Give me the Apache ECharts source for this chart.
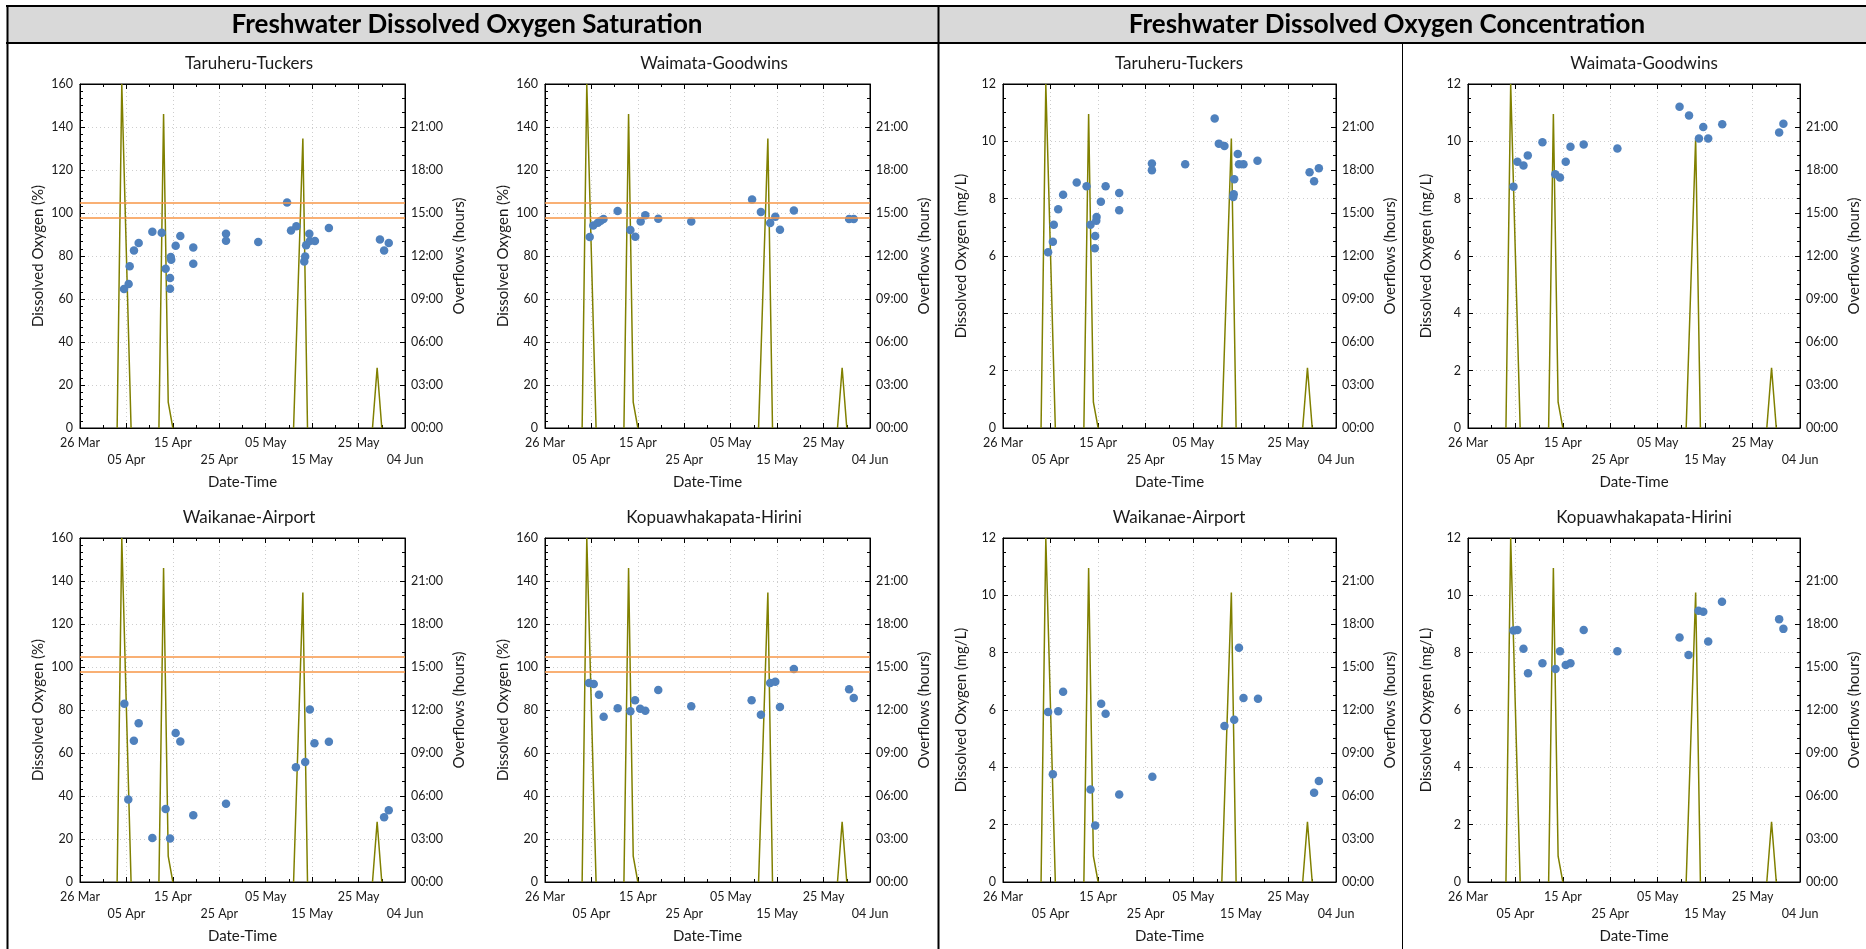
<!DOCTYPE html>
<html>
<head>
<meta charset="utf-8">
<script src="https://cdn.jsdelivr.net/npm/echarts@6/dist/echarts.min.js"></script>
<style>
html, body { margin: 0; padding: 0; background: #fff; }
#chart { width: 1866px; height: 949px; }
</style>
</head>
<body>
<div id="chart"></div>
<script>
// ---- Data -------------------------------------------------------------
// Sample times are 'MM-DD HH:mm' (2023); values are % saturation or mg/L.
const xTickLabels = ['26 Mar', '05 Apr', '15 Apr', '25 Apr', '05 May', '15 May', '25 May', '04 Jun'];
const satTicks = [0, 20, 40, 60, 80, 100, 120, 140, 160];
const concTicks = [0, 2, 4, 6, 8, 10, 12];
const satGuidelines = [98, 105];

// Daily overflow duration (hours)
const overflowDates = ['04-03', '04-04', '04-05', '04-06',
                       '04-12', '04-13', '04-14', '04-15',
                       '05-11', '05-12', '05-13', '05-14',
                       '05-28', '05-29', '05-30'];
const overflowHours = [0, 24, 12, 0,
                       0, 21.9, 1.8, 0,
                       0, 10.1, 20.2, 0,
                       0, 4.2, 0];

const taruheruSat = [
  ['04-04 11:30', 64.6], ['04-05 11:30', 67.0], ['04-05 16:45', 75.2], ['04-06 15:00', 82.6],
  ['04-07 15:15', 86.0], ['04-10 14:00', 91.3], ['04-12 14:30', 90.8], ['04-13 10:45', 74.1],
  ['04-14 09:30', 69.8], ['04-14 09:30', 64.8], ['04-14 13:15', 79.5], ['04-14 15:30', 78.3],
  ['04-15 14:30', 84.8], ['04-16 14:30', 89.3], ['04-19 09:30', 83.9], ['04-19 09:30', 76.4],
  ['04-26 10:45', 90.4], ['04-26 10:45', 87.1], ['05-03 09:30', 86.5], ['05-09 14:30', 104.9],
  ['05-10 10:45', 91.9], ['05-11 14:30', 93.8], ['05-13 07:15', 77.5], ['05-13 12:00', 79.8],
  ['05-13 16:45', 85.0], ['05-14 09:30', 90.4], ['05-14 12:00', 87.0], ['05-15 14:30', 87.0],
  ['05-18 14:30', 93.0], ['05-29 14:30', 87.7], ['05-30 12:00', 82.6], ['05-31 12:00', 86.0]
];
const waimataSat = [
  ['04-04 15:00', 88.8], ['04-05 09:30', 94.2], ['04-06 09:30', 95.5], ['04-07 00:00', 96.4],
  ['04-07 14:30', 97.2], ['04-10 15:30', 100.9], ['04-13 09:30', 92.1], ['04-14 10:45', 89.0],
  ['04-15 14:30', 96.0], ['04-16 14:30', 98.9], ['04-19 09:30', 97.3], ['04-26 12:00', 96.0],
  ['05-09 14:30', 106.3], ['05-11 12:00', 100.5], ['05-13 12:00', 95.3], ['05-14 14:30', 98.3],
  ['05-15 14:30', 92.2], ['05-18 14:30', 101.2], ['05-30 12:00', 97.2], ['05-31 12:00', 97.2]
];
const waikanaeSat = [
  ['04-04 13:15', 82.9], ['04-05 09:30', 38.4], ['04-06 14:30', 65.7], ['04-07 15:15', 73.8],
  ['04-10 14:00', 20.5], ['04-13 10:45', 33.9], ['04-14 09:30', 20.2], ['04-15 14:30', 69.3],
  ['04-16 14:30', 65.4], ['04-19 09:30', 31.1], ['04-26 10:45', 36.4], ['05-11 12:00', 53.4],
  ['05-13 12:00', 55.8], ['05-14 12:00', 80.2], ['05-15 12:00', 64.5], ['05-18 14:30', 65.2],
  ['05-30 12:00', 30.1], ['05-31 12:00', 33.4]
];
const kopuaSat = [
  ['04-04 11:30', 92.6], ['04-05 12:00', 92.1], ['04-06 15:00', 87.1], ['04-07 15:15', 76.9],
  ['04-10 15:45', 80.8], ['04-13 09:30', 79.4], ['04-14 09:30', 84.5], ['04-15 12:00', 80.6],
  ['04-16 14:30', 79.7], ['04-19 09:30', 89.3], ['04-26 12:00', 81.7], ['05-09 12:00', 84.5],
  ['05-11 12:00', 77.8], ['05-13 12:00', 92.6], ['05-14 14:30', 93.1], ['05-15 14:30', 81.4],
  ['05-18 14:30', 99.1], ['05-30 12:00', 89.7], ['05-31 12:00', 85.6]
];
const taruheruConc = [
  ['04-04 11:30', 6.13], ['04-05 11:30', 6.50], ['04-05 16:15', 7.09], ['04-06 14:30', 7.63],
  ['04-07 15:15', 8.14], ['04-10 12:00', 8.56], ['04-12 13:30', 8.43], ['04-13 09:30', 7.09],
  ['04-14 07:15', 6.27], ['04-14 09:00', 6.70], ['04-14 14:30', 7.23], ['04-14 16:00', 7.36],
  ['04-15 13:45', 7.89], ['04-16 13:45', 8.43], ['04-19 10:15', 8.20], ['04-19 10:15', 7.60],
  ['04-26 07:15', 9.23], ['04-26 07:15', 8.99], ['05-03 07:15', 9.20], ['05-09 12:00', 10.80],
  ['05-10 09:00', 9.92], ['05-11 13:15', 9.84], ['05-13 09:30', 8.06], ['05-13 12:00', 8.15],
  ['05-13 14:30', 8.68], ['05-14 08:30', 9.56], ['05-14 14:30', 9.20], ['05-15 13:15', 9.20],
  ['05-18 12:00', 9.32], ['05-29 10:45', 8.92], ['05-30 09:30', 8.61], ['05-31 09:30', 9.06]
];
const waimataConc = [
  ['04-04 14:00', 8.42], ['04-05 10:00', 9.29], ['04-06 16:45', 9.16], ['04-07 14:30', 9.51],
  ['04-10 16:45', 9.97], ['04-13 09:30', 8.85], ['04-14 09:30', 8.74], ['04-15 14:30', 9.29],
  ['04-16 14:30', 9.81], ['04-19 09:30', 9.89], ['04-26 12:00', 9.75], ['05-09 14:30', 11.21],
  ['05-11 14:30', 10.90], ['05-13 16:45', 10.10], ['05-14 14:30', 10.50], ['05-15 15:30', 10.10],
  ['05-18 14:30', 10.60], ['05-30 14:30', 10.31], ['05-31 12:00', 10.61]
];
const waikanaeConc = [
  ['04-04 11:30', 5.93], ['04-05 11:30', 3.76], ['04-06 14:30', 5.96], ['04-07 15:15', 6.64],
  ['04-13 09:30', 3.23], ['04-14 09:00', 1.97], ['04-15 15:15', 6.22], ['04-16 13:45', 5.87],
  ['04-19 10:15', 3.05], ['04-26 09:30', 3.67], ['05-11 13:15', 5.44], ['05-13 14:30', 5.66],
  ['05-14 14:30', 8.17], ['05-15 13:15', 6.42], ['05-18 14:30', 6.39], ['05-30 09:30', 3.11],
  ['05-31 09:30', 3.52]
];
const kopuaConc = [
  ['04-04 14:00', 8.77], ['04-05 10:00', 8.79], ['04-06 16:45', 8.14], ['04-07 15:45', 7.28],
  ['04-10 16:45', 7.63], ['04-13 10:45', 7.43], ['04-14 09:30', 8.05], ['04-15 14:30', 7.57],
  ['04-16 14:30', 7.63], ['04-19 09:30', 8.79], ['04-26 12:00', 8.05], ['05-09 14:30', 8.53],
  ['05-11 12:00', 7.92], ['05-13 14:30', 9.46], ['05-14 14:30', 9.43], ['05-15 15:30', 8.39],
  ['05-18 13:15', 9.78], ['05-30 14:30', 9.17], ['05-31 12:00', 8.83]
];

// ---- Helpers ----------------------------------------------------------
const YEAR = 2023;
const START = Date.UTC(YEAR, 2, 26);   // 26 Mar, left end of every time axis
const DAY_MS = 86400000;
function dayOf(s) {
  const [d, t] = s.split(' ');
  const [m, dd] = d.split('-').map(Number);
  const [hh, mi] = (t || '00:00').split(':').map(Number);
  return (Date.UTC(YEAR, m - 1, dd, hh, mi) - START) / DAY_MS;
}

// Overflow line: consecutive days are joined, separate events are broken apart
const overflowData = [];
overflowDates.forEach((d, i) => {
  const x = dayOf(d);
  if (i > 0 && x - dayOf(overflowDates[i - 1]) > 1) overflowData.push([x - 0.5, '-']);
  overflowData.push([x, overflowHours[i]]);
});

const FONT = 'Lato';
const TXT = '#1a1a1a';
const PLOT_H = 344;
const GRID_LINE = { type: [1, 3], color: '#cdcdcd', width: 1 };

const panels = [
  { title: 'Taruheru-Tuckers',       kind: 'sat',  left: 80,   top: 84,  width: 325, tx: 249,  data: taruheruSat },
  { title: 'Waimata-Goodwins',       kind: 'sat',  left: 545,  top: 84,  width: 325, tx: 714,  data: waimataSat },
  { title: 'Taruheru-Tuckers',       kind: 'conc', left: 1003, top: 84,  width: 333, tx: 1179, data: taruheruConc, hideLabel: 4 },
  { title: 'Waimata-Goodwins',       kind: 'conc', left: 1468, top: 84,  width: 332, tx: 1644, data: waimataConc },
  { title: 'Waikanae-Airport',       kind: 'sat',  left: 80,   top: 538, width: 325, tx: 249,  data: waikanaeSat },
  { title: 'Kopuawhakapata-Hirini',  kind: 'sat',  left: 545,  top: 538, width: 325, tx: 714,  data: kopuaSat },
  { title: 'Waikanae-Airport',       kind: 'conc', left: 1003, top: 538, width: 333, tx: 1179, data: waikanaeConc },
  { title: 'Kopuawhakapata-Hirini',  kind: 'conc', left: 1468, top: 538, width: 332, tx: 1644, data: kopuaConc }
];

const grids = [], xAxes = [], yAxes = [], series = [], graphics = [];

const tickStyle = { color: '#000', width: 1 };

panels.forEach((p, i) => {
  const sat = p.kind === 'sat';
  const ticks = sat ? satTicks : concTicks;
  grids.push({
    left: p.left, top: p.top, width: p.width, height: PLOT_H,
    show: true, borderColor: '#000', borderWidth: 1, backgroundColor: 'transparent'
  });
  // bottom time axis with labels on two alternating rows
  xAxes.push({
    type: 'value', gridIndex: i, position: 'bottom', min: 0, max: 70, interval: 10,
    axisLine: { show: true, onZero: false, lineStyle: { color: '#000' } },
    axisTick: { show: true, inside: true, length: 5, lineStyle: tickStyle },
    minorTick: { show: true, splitNumber: 2, length: 3, lineStyle: tickStyle },
    axisLabel: {
      margin: 6, fontSize: 12.5, lineHeight: 17, color: TXT, fontFamily: FONT,
      formatter: (v) => {
        const k = Math.round(v / 10);
        return k % 2 ? '\n' + xTickLabels[k] : xTickLabels[k];
      }
    },
    splitLine: { show: true, lineStyle: GRID_LINE },
    name: 'Date-Time', nameLocation: 'middle', nameGap: 47,
    nameTextStyle: { fontSize: 15, color: TXT, fontFamily: FONT }
  });
  // top edge of the frame carries the same tick marks
  xAxes.push({
    type: 'value', gridIndex: i, position: 'top', min: 0, max: 70, interval: 10,
    axisLine: { show: true, onZero: false, lineStyle: { color: '#000' } },
    axisTick: { show: true, inside: true, length: 5, lineStyle: tickStyle },
    minorTick: { show: true, splitNumber: 2, length: 3, lineStyle: tickStyle },
    axisLabel: { show: false }, splitLine: { show: false }
  });
  yAxes.push({
    type: 'value', gridIndex: i, position: 'left',
    min: ticks[0], max: ticks[ticks.length - 1], interval: ticks[1] - ticks[0],
    axisLine: { show: true, onZero: false, lineStyle: { color: '#000' } },
    axisTick: { show: true, inside: true, length: 5, lineStyle: tickStyle },
    minorTick: { show: true, splitNumber: sat ? 6 : 4, length: 3, lineStyle: tickStyle },
    axisLabel: {
      margin: 7, fontSize: 12.5, color: TXT, fontFamily: FONT,
      formatter: (v) => (v === p.hideLabel ? '' : String(v))
    },
    splitLine: { show: true, lineStyle: GRID_LINE },
    name: sat ? 'Dissolved Oxygen (%)' : 'Dissolved Oxygen (mg/L)',
    nameLocation: 'middle', nameGap: 34,
    nameTextStyle: { fontSize: 15, color: TXT, fontFamily: FONT }
  });
  yAxes.push({
    type: 'value', gridIndex: i, position: 'right', min: 0, max: 24, interval: 3,
    axisLine: { show: true, onZero: false, lineStyle: { color: '#000' } },
    axisTick: { show: true, inside: true, length: 5, lineStyle: tickStyle },
    minorTick: { show: true, splitNumber: 3, length: 3, lineStyle: tickStyle },
    axisLabel: {
      margin: 6, fontSize: 12.5, color: TXT, fontFamily: FONT,
      formatter: (v) => (v >= 24 ? '' : String(v).padStart(2, '0') + ':00')
    },
    splitLine: { show: false },
    name: 'Overflows (hours)', nameLocation: 'middle', nameGap: 47,
    nameTextStyle: { fontSize: 15, color: TXT, fontFamily: FONT }
  });

  series.push({
    type: 'line', xAxisIndex: 2 * i, yAxisIndex: 2 * i + 1,
    data: overflowData, symbol: 'none', connectNulls: false,
    lineStyle: { color: '#808000', width: 1.5 }, z: 2, silent: true
  });
  const sc = {
    type: 'scatter', xAxisIndex: 2 * i, yAxisIndex: 2 * i,
    data: p.data.map(([t, v]) => [dayOf(t), v]),
    symbol: 'circle', symbolSize: 8.5,
    itemStyle: { color: '#4f81bd', opacity: 1 }, z: 4, silent: true
  };
  if (sat) {
    sc.markLine = {
      silent: true, symbol: 'none', label: { show: false }, animation: false,
      lineStyle: { color: '#f79646', width: 1.5, type: 'solid' },
      data: satGuidelines.map((v) => ({ yAxis: v }))
    };
  }
  series.push(sc);

  graphics.push({
    type: 'text', x: p.tx, y: p.top - 20,
    style: { text: p.title, font: '17px ' + FONT, fill: TXT, textAlign: 'center', textVerticalAlign: 'middle' }
  });
});

// Header band, frame and dividers
graphics.push(
  { type: 'rect', shape: { x: 7, y: 6, width: 1866 - 7, height: 37 }, style: { fill: '#d9d9d9' }, z: 0 },
  { type: 'text', x: 467, y: 25, style: { text: 'Freshwater Dissolved Oxygen Saturation', font: 'bold 26px ' + FONT, fill: '#000', textAlign: 'center', textVerticalAlign: 'middle' }, z: 2 },
  { type: 'text', x: 1387, y: 25, style: { text: 'Freshwater Dissolved Oxygen Concentration', font: 'bold 26px ' + FONT, fill: '#000', textAlign: 'center', textVerticalAlign: 'middle' }, z: 2 },
  { type: 'line', shape: { x1: 6, y1: 6, x2: 1866, y2: 6 }, style: { stroke: '#000', lineWidth: 2 }, z: 3 },
  { type: 'line', shape: { x1: 6, y1: 43, x2: 1866, y2: 43 }, style: { stroke: '#000', lineWidth: 2 }, z: 3 },
  { type: 'line', shape: { x1: 7.5, y1: 5, x2: 7.5, y2: 949 }, style: { stroke: '#000', lineWidth: 2 }, z: 3 },
  { type: 'line', shape: { x1: 938.5, y1: 5, x2: 938.5, y2: 949 }, style: { stroke: '#000', lineWidth: 2 }, z: 3 },
  { type: 'line', shape: { x1: 1402.5, y1: 43, x2: 1402.5, y2: 949 }, style: { stroke: '#000', lineWidth: 1 }, z: 3 }
);

const chart = echarts.init(document.getElementById('chart'), null, { renderer: 'canvas' });
chart.setOption({
  animation: false,
  backgroundColor: '#fff',
  textStyle: { fontFamily: FONT },
  grid: grids,
  xAxis: xAxes,
  yAxis: yAxes,
  series: series,
  graphic: graphics
});
</script>
</body>
</html>
